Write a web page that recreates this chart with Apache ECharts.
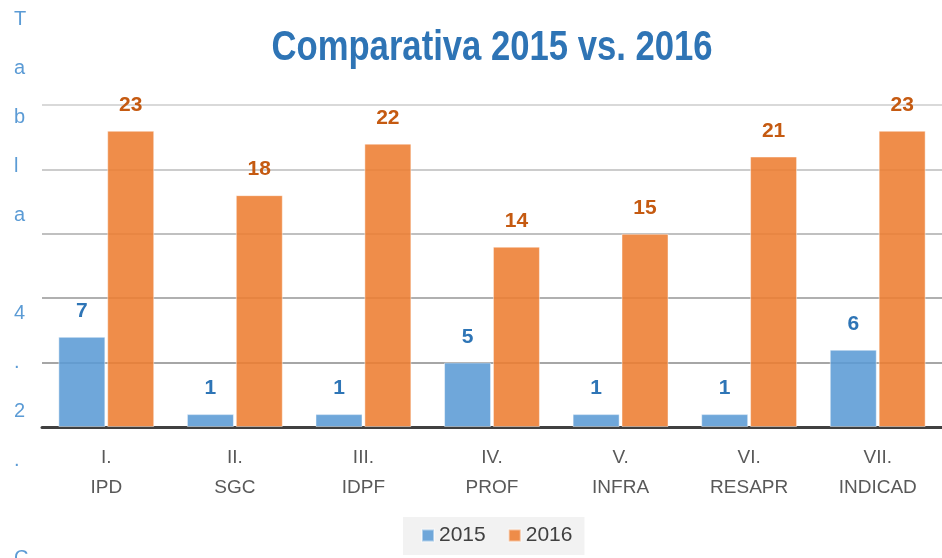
<!DOCTYPE html>
<html>
<head>
<meta charset="utf-8">
<script src="https://cdn.jsdelivr.net/npm/echarts@6/dist/echarts.min.js"></script>
<style>
  html, body { margin: 0; padding: 0; background: #fff; }
  #chart { width: 942px; height: 558px; }
</style>
</head>
<body>
<div id="chart"></div>
<script>
// Chart data
const categories = ["I.\nIPD", "II.\nSGC", "III.\nIDPF", "IV.\nPROF", "V.\nINFRA", "VI.\nRESAPR", "VII.\nINDICAD"]
const values2015 = [7, 1, 1, 5, 1, 1, 6]
const values2016 = [23, 18, 22, 14, 15, 21, 23]
const seriesNames = ["2015", "2016"]
const titleText = "Comparativa 2015 vs. 2016"
const sideCaption = ["T", "a", "b", "l", "a", "", "4", ".", "2", ".", "", "C"]

const chart = echarts.init(document.getElementById("chart"))

const labelStyle = (color) => ({
  show: true,
  position: "top",
  distance: 15,
  color: color,
  fontFamily: "Liberation Sans",
  fontWeight: "bold",
  fontSize: 21,
})

chart.setOption({
  animation: false,
  graphic: [
    // title, squeezed a bit to look like a narrow face
    {
      type: "text",
      x: 492,
      y: 48,
      scaleX: 0.825,
      style: {
        text: titleText,
        fill: "#2E74B5",
        font: "bold 42px 'Liberation Sans'",
        align: "center",
        verticalAlign: "middle",
      },
    },
    // the stray vertical caption on the left
    {
      type: "text",
      left: 14,
      top: -5,
      style: {
        text: sideCaption.join("\n"),
        fill: "#5B9BD5",
        font: "20px 'Liberation Sans'",
        lineHeight: 49,
        align: "left",
      },
    },
  ],
  legend: {
    data: seriesNames,
    left: 403,
    top: 517,
    itemWidth: 12,
    itemHeight: 12,
    itemGap: 22,
    padding: [8, 12, 9, 18],
    backgroundColor: "#f2f2f2",
    icon: "rect",
    textStyle: {
      color: "#404040",
      fontFamily: "Liberation Sans",
      fontSize: 21,
    },
  },
  grid: {
    left: 42,
    right: 0,
    top: 105,
    bottom: 131,
  },
  xAxis: {
    type: "category",
    data: categories,
    axisTick: { show: false },
    axisLine: { lineStyle: { color: "#404040", width: 3 } },
    axisLabel: {
      color: "#595959",
      fontFamily: "Liberation Sans",
      fontSize: 19,
      lineHeight: 30,
      margin: 16,
    },
  },
  yAxis: {
    type: "value",
    min: 0,
    max: 25,
    interval: 5,
    axisLabel: { show: false },
    axisLine: { show: false },
    axisTick: { show: false },
    splitLine: {
      lineStyle: {
        width: 2,
        color: ["#a0a0a0", "#a6a6a6", "#b0b0b0", "#c0c0c0", "#cccccc", "#d9d9d9"],
      },
    },
  },
  series: [
    {
      name: seriesNames[0],
      type: "bar",
      data: values2015,
      barWidth: 47,
      barGap: "4%",
      itemStyle: {
        color: "rgba(91,155,213,0.88)",
        borderColor: "rgba(255,255,255,0.45)",
        borderWidth: 1,
      },
      label: labelStyle("#2E75B6"),
    },
    {
      name: seriesNames[1],
      type: "bar",
      data: values2016,
      barWidth: 47,
      itemStyle: {
        color: "rgba(237,125,49,0.88)",
        borderColor: "rgba(255,255,255,0.45)",
        borderWidth: 1,
      },
      label: labelStyle("#C55A11"),
    },
  ],
})
</script>
</body>
</html>
